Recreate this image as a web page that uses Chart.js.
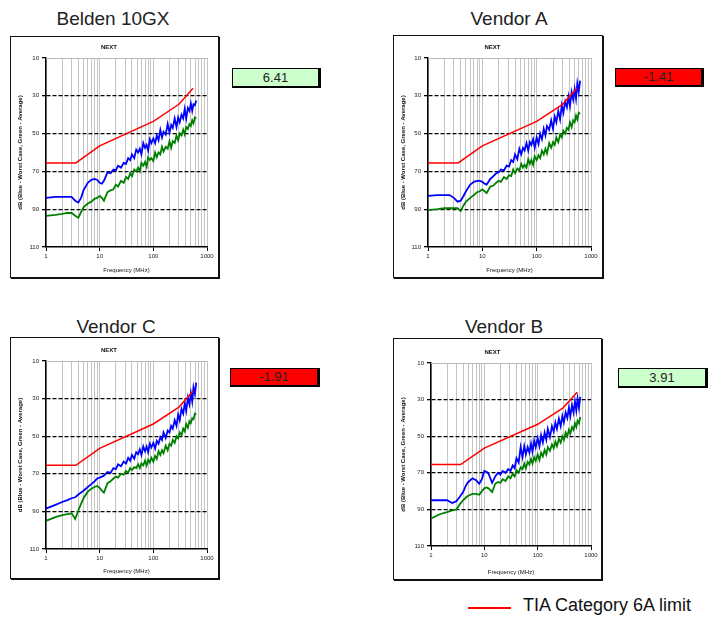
<!DOCTYPE html>
<html>
<head>
<meta charset="utf-8">
<script src="https://cdn.jsdelivr.net/npm/chart.js@4.4.1/dist/chart.umd.min.js"></script>
<style>
body { margin: 0; background: #fff; font-family: "Liberation Sans", Arial, sans-serif; }
#page { position: relative; width: 713px; height: 622px; overflow: hidden; }
.title { position: absolute; font-size: 19px; line-height: 1; color: #222; transform: translateX(-50%); white-space: nowrap; }
.frame { position: absolute; box-shadow: 0 0 0 1px #111, 1px 1px 0 1px #111; background: #fff; }
.frame canvas { display: block; }
.val { position: absolute; box-sizing: border-box; border: 1px solid #000; border-right-width: 3px; border-bottom-width: 2px;
       font-size: 13px; color: #222; text-align: center; }
#legendLine { position: absolute; left: 468px; top: 607px; width: 43px; height: 2px; background: #ff0000; }
#legendText { position: absolute; left: 523px; top: 596px; font-size: 18px; line-height: 1; color: #111; white-space: nowrap; }
</style>
</head>
<body>
<div id="page">
  <div id="legendLine"></div>
  <div id="legendText">TIA Category 6A limit</div>
</div>
<script>
// frequency points (MHz) shared by the measured traces
const freq = [
  1, 1.5, 2, 2.5, 3, 3.5, 4, 4.5, 5, 6, 7, 8, 9,
  10, 11, 12, 14, 16, 18, 20, 22, 25, 28, 31, 34, 37,
  40, 44, 48, 52, 56, 60, 65, 70, 75, 80, 86, 92, 100,
  108, 116, 125, 135, 145, 155, 170, 185, 200, 215, 230, 250, 270,
  290, 310, 335, 360, 385, 410, 440, 470, 500, 530, 560, 595, 630
];

// TIA Category 6A limit line
const limitFreq = [1, 3.6, 10, 100, 300, 550];
const limitDb = [65.5, 65.5, 56.5, 43.5, 34.5, 26];

// tick labels
const freqTicks = [1, 2, 3, 4, 5, 6, 7, 8, 9, 10, 20, 30, 40, 50, 60, 70, 80, 90,
                   100, 200, 300, 400, 500, 600, 700, 800, 900, 1000];
const decadeLabels = [1, 10, 100, 1000];
const dbTicks = [10, 30, 50, 70, 90, 110];
const dbGridLines = [30, 50, 70, 90];

const panelTitles = ["Belden 10GX", "Vendor A", "Vendor C", "Vendor B"];
const panelValues = ["6.41", "-1.41", "-1.91", "3.91"];

const beldenBlue = [
  84, 83.5, 83.5, 83.5, 83.5, 85.5, 86.5, 84, 80, 76, 74.5, 74, 74.5,
  76, 76.5, 75, 70.5, 71, 69, 69.5, 67, 68, 65.5, 66, 63, 64,
  61, 63, 58.5, 60, 58, 61, 55, 57.5, 56, 59, 53, 55, 52.5,
  55, 51, 53.5, 48, 52, 49, 50.5, 45, 49.5, 45.5, 47, 42, 46.5,
  41.5, 44, 40, 42, 37, 42, 36.5, 38, 34, 38, 34.5, 35, 32.5
];
const beldenGreen = [
  93.5, 93, 92.5, 92, 92, 93.5, 94.5, 91.5, 89, 87, 86, 84.5, 84,
  83, 84, 85.5, 81, 80, 79.5, 77, 78, 75, 76, 73, 74, 71,
  72.5, 69, 70, 68, 70, 65.5, 67, 65, 67.5, 62.5, 64, 63, 64.5,
  60, 62.5, 60, 61, 57, 59.5, 57, 58, 54, 57.5, 54, 55, 51,
  53.5, 50, 51, 48, 50.5, 46.5, 47.5, 45, 46, 43, 44.5, 41.5, 42
];
const vendorABlue = [
  83, 82.5, 82.5, 82.5, 84, 86, 85.5, 83, 80.5, 77, 75.5, 75, 75,
  75.5, 76.5, 77, 74, 72.5, 71, 70.5, 69, 69.5, 67, 67.5, 64, 65,
  61, 63.5, 58, 61, 57.5, 59, 55, 59, 54.5, 56, 53, 57.5, 52,
  55.5, 50, 53, 47.5, 51, 46, 48, 43, 47.5, 41, 44, 38, 42.5,
  35, 39, 33, 36, 30.5, 35.5, 28, 32, 26.5, 31.5, 23.5, 28, 22
];
const vendorAGreen = [
  90.5, 90, 89.5, 89.5, 89.5, 89.5, 91, 88, 86, 84, 82.5, 81, 80.5,
  79.5, 80.5, 81.5, 78, 77.5, 76, 75, 75.5, 73, 74, 72, 72.5, 69,
  71, 68.5, 69.5, 66, 68, 66.5, 68, 63.5, 66, 64, 66.5, 62, 64,
  61.5, 63, 59, 61, 58, 60.5, 55, 57.5, 54.5, 56, 52, 54.5, 50.5,
  52, 48.5, 50, 47, 48, 44, 46.5, 43, 44, 40.5, 42.5, 39, 39.5
];
const vendorCBlue = [
  88.5, 86.5, 85, 84, 83, 82.5, 81, 80, 79, 77, 75.5, 74, 72.5,
  72, 71.5, 71, 69, 69.5, 67, 67.5, 65, 66, 63.5, 64.5, 61.5, 63,
  60, 62, 58.5, 59.5, 57, 60, 55.5, 58, 55.5, 58.5, 54, 56, 53.5,
  56.5, 52.5, 54, 50.5, 52, 48, 51, 47, 48, 44.5, 46, 41.5, 44.5,
  38.5, 41.5, 35.5, 38, 32.5, 36.5, 29.5, 33, 27, 31.5, 24, 27.5, 21.5
];
const vendorCGreen = [
  95, 93, 92, 91.5, 91, 94, 89.5, 86, 83, 79.5, 78, 77, 76.5,
  77.5, 79, 80, 75, 74, 72.5, 71.5, 72, 70, 70.5, 68.5, 69.5, 67,
  68, 66.5, 67, 65, 67, 64.5, 65.5, 63, 65.5, 62.5, 64, 61.5, 63.5,
  60.5, 62, 58, 60, 57.5, 59, 55, 57.5, 54, 55, 52, 53.5, 50,
  51, 48, 49.5, 46, 47.5, 43.5, 45.5, 42, 43, 40.5, 41, 38, 38.5
];
const vendorBBlue = [
  85, 85, 85, 86.5, 85.5, 83, 80.5, 77, 75, 73, 74, 76, 73.5,
  69, 69.5, 70.5, 75.5, 72, 70, 71, 69, 70, 68, 69, 66, 67.5,
  62, 64.5, 56, 61.5, 55.5, 60, 56, 59, 54, 58.5, 52.5, 56, 51,
  55.5, 49.5, 53.5, 48, 52, 46, 50.5, 44.5, 47.5, 42.5, 46, 40.5, 44.5,
  39, 42.5, 37, 40, 34.5, 39, 33, 37, 31, 36, 29.5, 34.5, 28.5
];
const vendorBGreen = [
  95, 92.5, 91.5, 90.5, 90, 87, 85, 83.5, 82.5, 81.5, 81.5, 82, 80,
  78.5, 78, 78.5, 80.5, 76, 75, 75.5, 73.5, 74.5, 72, 73, 70.5, 72,
  68.5, 70, 67, 68, 65, 67.5, 64, 65.5, 62.5, 65, 61.5, 63.5, 60,
  63, 59, 61, 57.5, 60, 56, 58, 54.5, 56.5, 53, 55.5, 51.5, 53.5,
  50, 52, 48, 50, 46.5, 48.5, 45, 46.5, 43, 45, 41.5, 43, 39.5
];

Chart.defaults.font.family = '"Liberation Sans", Arial, sans-serif';

// layout of each panel: box [left, top, w, h], plot insets [left, top, right, bottom], title centre, value box
const panels = [
  { blue: beldenBlue, green: beldenGreen, box: [11, 37, 207, 240], pad: [35, 21, 11, 30],
    titlePos: [113, 9], valBox: [232, 68, 89, 20], valColor: "#ccffcc" },
  { blue: vendorABlue, green: vendorAGreen, box: [394, 36, 208, 241], pad: [34, 22, 11, 30],
    titlePos: [509, 9], valBox: [615, 68, 89, 19], valColor: "#ff0000" },
  { blue: vendorCBlue, green: vendorCGreen, box: [11, 338, 207, 240], pad: [35, 23, 11, 29],
    titlePos: [116, 317], valBox: [230, 368, 90, 19], valColor: "#ff0000" },
  { blue: vendorBBlue, green: vendorBGreen, box: [394, 339, 207, 240], pad: [37, 24, 10, 33],
    titlePos: [504, 317], valBox: [618, 368, 90, 20], valColor: "#ccffcc" }
];

function toPoints(xs, ys) {
    return xs.map((x, i) => ({ x: x, y: ys[i] }));
}

// thin grey line along the top of the plot area
const plotTop = {
    id: "plotTop",
    beforeDatasetsDraw(chart) {
        const a = chart.chartArea;
        const c = chart.ctx;
        c.save();
        c.strokeStyle = "#b8b8b8";
        c.lineWidth = 1;
        c.beginPath();
        c.moveTo(a.left, a.top + 0.5);
        c.lineTo(a.right, a.top + 0.5);
        c.stroke();
        c.restore();
    }
};

const page = document.getElementById("page");

panels.forEach((p, i) => {
    let t = document.createElement("div");
    t.className = "title";
    t.style.left = p.titlePos[0] + "px";
    t.style.top = p.titlePos[1] + "px";
    t.textContent = panelTitles[i];
    page.appendChild(t);

    let v = document.createElement("div");
    v.className = "val";
    v.style.left = p.valBox[0] + "px";
    v.style.top = p.valBox[1] + "px";
    v.style.width = p.valBox[2] + "px";
    v.style.height = p.valBox[3] + "px";
    v.style.lineHeight = (p.valBox[3] - 3) + "px";
    v.style.background = p.valColor;
    v.textContent = panelValues[i];
    page.appendChild(v);

    let frame = document.createElement("div");
    frame.className = "frame";
    frame.style.left = p.box[0] + "px";
    frame.style.top = p.box[1] + "px";
    let canvas = document.createElement("canvas");
    canvas.width = p.box[2];
    canvas.height = p.box[3];
    canvas.style.width = p.box[2] + "px";
    canvas.style.height = p.box[3] + "px";
    frame.appendChild(canvas);
    page.appendChild(frame);

    new Chart(canvas.getContext("2d"), {
        type: "line",
        data: {
            datasets: [
                { label: "TIA Category 6A limit", data: toPoints(limitFreq, limitDb),
                  borderColor: "#ff0000", borderWidth: 1.5 },
                { label: "Average", data: toPoints(freq, p.green),
                  borderColor: "#008000", borderWidth: 1.8 },
                { label: "Worst Case", data: toPoints(freq, p.blue),
                  borderColor: "#0000ff", borderWidth: 1.8 }
            ]
        },
        options: {
            responsive: false,
            animation: false,
            layout: { padding: { left: 0, right: p.pad[2], top: 0, bottom: 0 } },
            elements: { point: { radius: 0 }, line: { tension: 0 } },
            plugins: {
                legend: { display: false },
                tooltip: { enabled: false },
                title: {
                    display: true, text: "NEXT", color: "#111",
                    font: { size: 6, weight: "bold" },
                    padding: { top: p.pad[1] - 14.2, bottom: 7 }
                }
            },
            scales: {
                x: {
                    type: "logarithmic", min: 1, max: 1000,
                    afterBuildTicks: s => { s.ticks = freqTicks.map(f => ({ value: f })); },
                    afterFit: s => { s.height = p.pad[3]; },
                    ticks: {
                        autoSkip: false, maxRotation: 0, minRotation: 0, padding: 2,
                        font: { size: 6 }, color: "#222",
                        callback: val => decadeLabels.includes(val) ? String(val) : ""
                    },
                    grid: {
                        color: "#c4c4c4", lineWidth: 1, tickLength: 4,
                        tickColor: ctx => decadeLabels.includes(ctx.tick.value) ? "#000" : "rgba(0,0,0,0)"
                    },
                    border: { color: "#000", width: 1.5 },
                    title: {
                        display: true, text: "Frequency (MHz)", color: "#111",
                        font: { size: 6 }, padding: { top: 0, bottom: 3.4 }
                    }
                },
                y: {
                    min: 10, max: 110, reverse: true,
                    afterBuildTicks: s => { s.ticks = dbTicks.map(d => ({ value: d })); },
                    afterFit: s => { s.width = p.pad[0]; },
                    ticks: { padding: 3, font: { size: 6 }, color: "#222" },
                    grid: {
                        color: ctx => dbGridLines.includes(ctx.tick.value) ? "#000" : "rgba(0,0,0,0)",
                        lineWidth: 1.3, tickLength: 4, tickColor: "#000"
                    },
                    border: { color: "#000", width: 1.5, dash: [4, 2] },
                    title: {
                        display: true, text: "dB (Blue - Worst Case, Green - Average)", color: "#111",
                        font: { size: 6, weight: "bold" }, padding: { top: 5.4, bottom: 0 }
                    }
                }
            }
        },
        plugins: [plotTop]
    });
});
</script>
</body>
</html>
